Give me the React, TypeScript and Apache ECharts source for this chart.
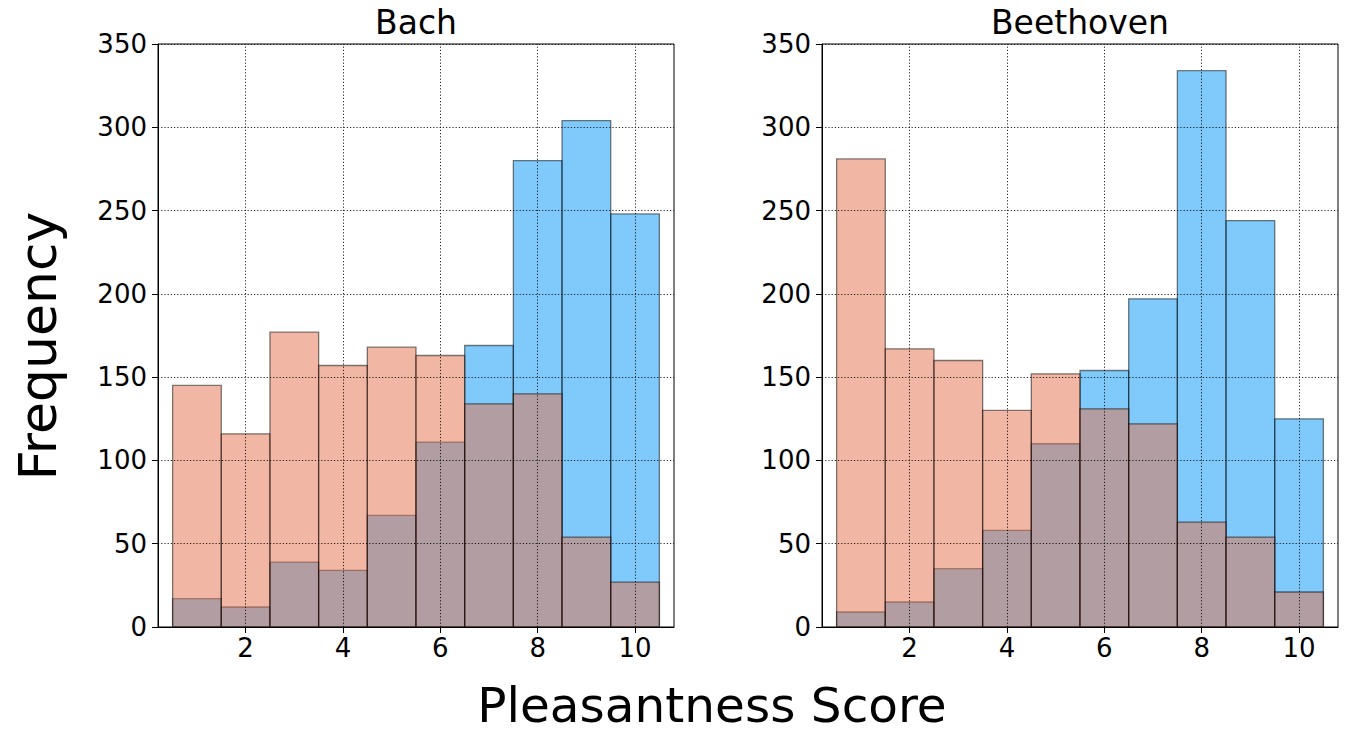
import React, { useEffect, useRef } from "react";
import * as echarts from "echarts";

const binCenters = [1, 2, 3, 4, 5, 6, 7, 8, 9, 10];
const binWidth = 1;
const bachBlue = [17, 12, 39, 34, 67, 111, 169, 280, 304, 248];
const bachSalmon = [145, 116, 177, 157, 168, 163, 134, 140, 54, 27];
const beethovenBlue = [9, 15, 35, 58, 110, 154, 197, 334, 244, 125];
const beethovenSalmon = [281, 167, 160, 130, 152, 131, 122, 63, 54, 21];
const xTicks = [2, 4, 6, 8, 10];
const yTicks = [0, 50, 100, 150, 200, 250, 300, 350];
const titles = ["Bach", "Beethoven"];

const FONT = "DejaVu Sans";
const BLUE = "rgba(0,150,245,0.5)";
const SALMON = "rgba(228,111,73,0.5)";
const EDGE = "rgba(0,0,0,0.5)";

export default function App() {
  const ref = useRef<HTMLDivElement>(null);
  useEffect(() => {
    if (!ref.current) return;
    const chart = echarts.init(ref.current, null, { renderer: "svg" });
    const grids = [
      { left: 158, top: 44, width: 516, height: 583 },
      { left: 822, top: 44, width: 516, height: 583 },
    ];
    const panels = [
      { blue: bachBlue, salmon: bachSalmon },
      { blue: beethovenBlue, salmon: beethovenSalmon },
    ];
    const makeBars = (vals: number[], fill: string, idx: number, withGrid: boolean) => ({
      type: "custom",
      xAxisIndex: idx,
      yAxisIndex: idx,
      data: binCenters.map((c, i) => [c, vals[i]]),
      renderItem: (params: any, api: any) => {
        const c = api.value(0);
        const v = api.value(1);
        const p1 = api.coord([c - binWidth / 2, v]);
        const p2 = api.coord([c + binWidth / 2, 0]);
        return {
          type: "rect",
          shape: { x: p1[0], y: p1[1], width: p2[0] - p1[0], height: p2[1] - p1[1] },
          style: { fill, stroke: EDGE, lineWidth: 1.3 },
        };
      },
      markLine: withGrid
        ? {
            silent: true,
            symbol: ["none", "none"],
            label: { show: false },
            animation: false,
            lineStyle: { color: "rgba(0,0,0,0.85)", type: [1.2, 2], width: 1 },
            emphasis: { disabled: true },
            data: [
              ...xTicks.map((v) => ({ xAxis: v })),
              ...yTicks.map((v) => ({ yAxis: v })),
            ],
          }
        : undefined,
      z: withGrid ? 3 : 2,
    });

    const option: any = {
      animation: false,
      backgroundColor: "#fff",
      grid: grids.map((g) => ({
        ...g,
        show: true,
        borderColor: "#000",
        borderWidth: 1,
        backgroundColor: "transparent",
      })),
      xAxis: grids.map((_, i) => ({
        type: "value",
        gridIndex: i,
        min: 0.2,
        max: 10.8,
        z: 10,
        axisLine: { show: true, onZero: false, lineStyle: { color: "#000", width: 1 } },
        axisTick: {
          show: true,
          inside: false,
          length: 6,
          customValues: xTicks,
          lineStyle: { color: "#000", width: 1 },
        },
        axisLabel: {
          show: true,
          customValues: xTicks,
          margin: 8,
          color: "#000",
          fontSize: 26,
          fontFamily: FONT,
        },
        splitLine: { show: false },
      })),
      yAxis: grids.map((_, i) => ({
        type: "value",
        gridIndex: i,
        min: 0,
        max: 350,
        interval: 50,
        z: 10,
        axisLine: { show: true, lineStyle: { color: "#000", width: 1 } },
        axisTick: { show: true, inside: false, length: 6, lineStyle: { color: "#000", width: 1 } },
        axisLabel: { margin: 11, color: "#000", fontSize: 26, fontFamily: FONT },
        splitLine: { show: false },
      })),
      series: panels.flatMap((p, i) => [
        makeBars(p.blue, BLUE, i, false),
        makeBars(p.salmon, SALMON, i, true),
      ]),
      graphic: [
        ...titles.map((t, i) => ({
          type: "text",
          x: grids[i].left + grids[i].width / 2,
          y: 22,
          style: {
            text: t,
            fontSize: 33,
            fontFamily: FONT,
            fill: "#000",
            align: "center",
            verticalAlign: "middle",
          },
        })),
        {
          type: "text",
          x: 38,
          y: 346,
          rotation: Math.PI / 2,
          style: {
            text: "Frequency",
            fontSize: 52,
            fontFamily: FONT,
            fill: "#000",
            align: "center",
            verticalAlign: "middle",
          },
        },
        {
          type: "text",
          x: 712,
          y: 705,
          style: {
            text: "Pleasantness Score",
            fontSize: 48.5,
            lineHeight: 40,
            fontFamily: FONT,
            fill: "#000",
            align: "center",
            verticalAlign: "middle",
          },
        },
      ],
    };
    chart.setOption(option);
    return () => chart.dispose();
  }, []);
  return (
    <div
      ref={ref}
      style={{ position: "fixed", left: 0, top: 0, width: 1349, height: 732, background: "#fff" }}
    />
  );
}
